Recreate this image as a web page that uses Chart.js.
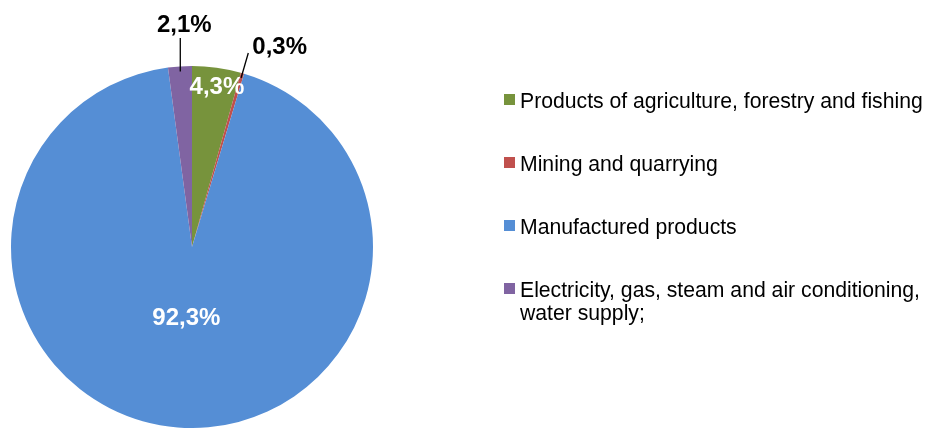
<!DOCTYPE html>
<html>
<head>
<meta charset="utf-8">
<script src="https://cdn.jsdelivr.net/npm/chart.js@4"></script>
<style>
  html, body { margin: 0; padding: 0; background: #fff; }
  #wrap { width: 928px; height: 428px; position: relative; }
</style>
</head>
<body>
<div id="wrap"><canvas id="pie"></canvas></div>
<script>
// chart data
var categories = [
    'Products of agriculture, forestry and fishing',
    'Mining and quarrying',
    'Manufactured products',
    'Electricity, gas, steam and air conditioning, water supply;'
];
var shares = [4.3, 0.3, 92.3, 2.1];
var sliceColors = ['#77933C', '#C0504D', '#558ED5', '#8064A2'];

// legend lines (wrapped as in the original)
var legendLines = [
    ['Products of agriculture, forestry and fishing'],
    ['Mining and quarrying'],
    ['Manufactured products'],
    ['Electricity, gas, steam and air conditioning,', 'water supply;']
];

// how each label is drawn: inside (white) or outside with leader line
var labelMode = ['inside', 'outside', 'inside', 'outside'];
var insideFrac = [0.89, 0, 0.395, 0];
var insideShiftX = [3, 0, 0, 0];

function fmt(v) {
    return v.toFixed(1).replace('.', ',') + '%';
}

var labelPlugin = {
    id: 'sliceLabels',
    afterDatasetsDraw: function(chart) {
        var ctx = chart.ctx;
        var arcs = chart.getDatasetMeta(0).data;
        ctx.save();
        ctx.font = 'bold 24px "Liberation Sans", Arial, sans-serif';
        arcs.forEach(function(arc, i) {
            var p = arc.getProps(['x', 'y', 'startAngle', 'endAngle', 'outerRadius'], true);
            var mid = (p.startAngle + p.endAngle) / 2;
            var cos = Math.cos(mid), sin = Math.sin(mid);
            var text = fmt(shares[i]);
            if (labelMode[i] === 'inside') {
                var r = p.outerRadius * insideFrac[i];
                ctx.fillStyle = '#fff';
                ctx.textAlign = 'center';
                ctx.textBaseline = 'middle';
                ctx.fillText(text, p.x + cos * r + insideShiftX[i], p.y + sin * r);
                return;
            }
            var x0 = p.x + cos * (p.outerRadius - 5);
            var y0 = p.y + sin * (p.outerRadius - 5);
            var x1, y1;
            ctx.strokeStyle = '#000';
            ctx.lineWidth = 1.3;
            ctx.fillStyle = '#000';
            ctx.textBaseline = 'alphabetic';
            ctx.beginPath();
            ctx.moveTo(x0, y0);
            if (i === 3) {
                // straight up above the slice
                x1 = x0; y1 = p.y - p.outerRadius - 28;
                ctx.lineTo(x1, y1);
                ctx.stroke();
                ctx.textAlign = 'center';
                ctx.fillText(text, x1 + 4, y1 - 6);
            } else {
                x1 = p.x + cos * (p.outerRadius + 21);
                y1 = p.y + sin * (p.outerRadius + 21);
                ctx.lineTo(x1, y1);
                ctx.stroke();
                ctx.textAlign = 'left';
                ctx.fillText(text, x1 + 4, y1 + 1);
            }
        });
        ctx.restore();
    }
};

var legendPlugin = {
    id: 'sideLegend',
    afterDraw: function(chart) {
        var ctx = chart.ctx;
        var baseY = [108, 171, 234, 297];
        ctx.save();
        ctx.font = '21.2px "Liberation Sans", Arial, sans-serif';
        ctx.textAlign = 'left';
        ctx.textBaseline = 'alphabetic';
        legendLines.forEach(function(lines, i) {
            ctx.fillStyle = sliceColors[i];
            ctx.fillRect(504, baseY[i] - 14, 11, 11);
            ctx.fillStyle = '#000';
            lines.forEach(function(line, j) {
                ctx.fillText(line, 520, baseY[i] + j * 23);
            });
        });
        ctx.restore();
    }
};

new Chart(document.getElementById('pie'), {
    type: 'pie',
    data: {
        labels: categories,
        datasets: [{
            data: shares,
            backgroundColor: sliceColors,
            borderWidth: 0
        }]
    },
    options: {
        responsive: true,
        maintainAspectRatio: false,
        animation: false,
        layout: { padding: { left: 10, right: 554, top: 66, bottom: 0 } },
        plugins: {
            legend: { display: false },
            tooltip: { enabled: false }
        }
    },
    plugins: [labelPlugin, legendPlugin]
});
</script>
</body>
</html>
